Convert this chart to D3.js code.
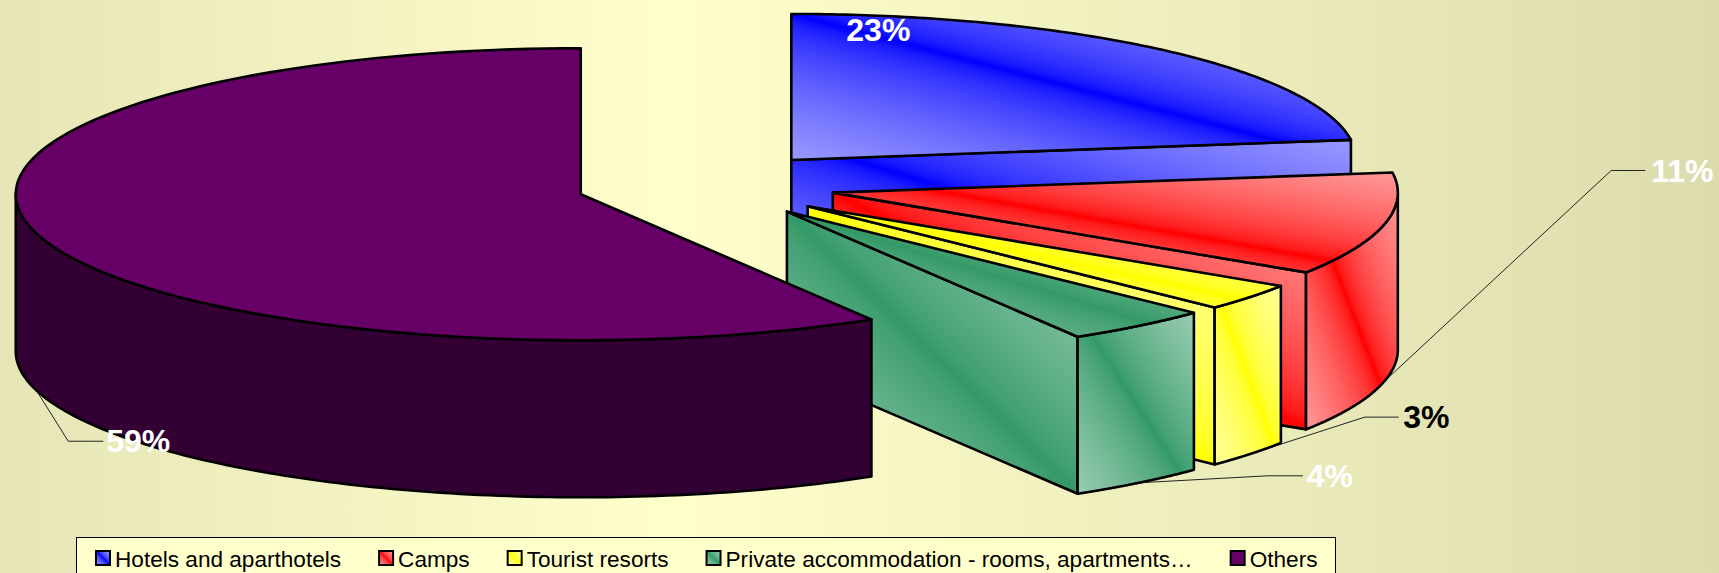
<!DOCTYPE html>
<html>
<head>
<meta charset="utf-8">
<script src="https://cdn.jsdelivr.net/npm/d3@7"></script>
<style>
  html, body { margin: 0; padding: 0; overflow: hidden; }
  svg { display: block; }
  text { font-family: "Liberation Sans", Arial, sans-serif; }
</style>
</head>
<body>
<div id="chart"></div>
<script>
const categories = ['Hotels and aparthotels', 'Camps', 'Tourist resorts', 'Private accommodation - rooms, apartments…', 'Others']
const shares = [22.8, 11.4, 3.0, 4.2, 58.6]
const pct_labels = ['23%', '11%', '3%', '4%', '59%']
const colors = ['#0000ff', '#ff0000', '#ffff00', '#339966', '#660066']
const corner_tint = [0.6, 0.6, 0.6, 0.5, 0]
const tint_curve = [0.6, 0.6, 0.55, 0.75, 1]
const label_colors = ['#fff', '#fff', '#000', '#fff', '#fff']

const width = 1719, height = 573
const rx = 565, ry = 146, depth = 157
const base_x = 706, base_y = 185.3
const explode = 0.23

// hand placed labels, offset from the slice's lower rim point. elbow null = no leader
const label_pos = [
    { dx: -316, dy: -177, elbow: null },
    { dx: 267, dy: -211, elbow: [227, -211], end: 261 },
    { dx: 153.5, dy: -37, elbow: [115, -37], end: 149 },
    { dx: 168, dy: -7, elbow: [129, -7], end: 164 },
    { dx: 70, dy: 51, elbow: [32, 51], end: 67 }
]

const svg = d3.select('#chart').append('svg')
    .attr('width', width)
    .attr('height', height)

const defs = svg.append('defs')

const bg = defs.append('linearGradient').attr('id', 'bg')
bg.append('stop').attr('offset', 0).attr('stop-color', '#e5e5b7')
bg.append('stop').attr('offset', 0.39).attr('stop-color', '#ffffcc')
bg.append('stop').attr('offset', 1).attr('stop-color', '#dbdbad')

svg.append('rect').attr('width', width).attr('height', height).attr('fill', 'url(#bg)')

// three colour diagonal fill, light in the corners and full colour along the middle
colors.forEach((c, i) => {
    const g = defs.append('linearGradient').attr('id', 'grad' + i)
        .attr('x1', 1).attr('y1', 0).attr('x2', 0).attr('y2', 1)
    const tint = t => d3.interpolateRgb(c, '#fff')(corner_tint[i] * Math.pow(Math.abs(2 * t - 1), tint_curve[i]))
    d3.range(0, 41).forEach(k => {
        g.append('stop').attr('offset', k / 40).attr('stop-color', tint(k / 40))
    })
})

const fill_top = i => i == 4 ? '#660066' : 'url(#grad' + i + ')'
const fill_side = i => i == 4 ? '#330033' : 'url(#grad' + i + ')'

const arcs = d3.pie().sort(null).value(d => d)(shares)

const slices = arcs.map((a, i) => {
    const mid = (a.startAngle + a.endAngle) / 2
    const cx = base_x + explode * rx * Math.sin(mid)
    const cy = base_y - explode * ry * Math.cos(mid)
    const point = (ang, z = 0) => [cx + rx * Math.sin(ang), cy - ry * Math.cos(ang) + z]
    return { i, start: a.startAngle, end: a.endAngle, mid, cx, cy, point }
})

const line = d3.line()
const rim = (s, from, to, z = 0) => d3.range(0, 121).map(k => s.point(from + (to - from) * k / 120, z))

const pie_g = svg.append('g')
const leader_g = pie_g.append('g')

const half = Math.PI / 2
slices.forEach(s => {
    const g = pie_g.append('g')
    // flat top
    const top_pts = [[s.cx, s.cy]].concat(rim(s, s.start, s.end))
    // wall on the end cut of the slice, faces us while the cut is on the right hand side
    if (s.end > 0 && s.end < Math.PI) {
        const p = s.point(s.end)
        g.append('path')
            .attr('d', line([[s.cx, s.cy], p, [p[0], p[1] + depth], [s.cx, s.cy + depth]]) + 'Z')
            .attr('fill', fill_side(s.i))
    }
    // outer wall
    const from = Math.max(s.start, half), to = Math.min(s.end, 3 * half)
    if (to > from) {
        const upper = rim(s, from, to)
        const lower = rim(s, to, from, depth)
        g.append('path')
            .attr('d', line(upper.concat(lower)) + 'Z')
            .attr('fill', fill_side(s.i))
    }
    g.append('path')
        .attr('d', line(top_pts) + 'Z')
        .attr('fill', fill_top(s.i))
    g.selectAll('path')
        .attr('stroke', '#000')
        .attr('stroke-width', 2.6)
        .attr('stroke-linejoin', 'round')
})

// leaders sit behind the slices, so they run up to the rim and disappear
slices.forEach(s => {
    const pos = label_pos[s.i]
    const a = s.point(s.mid, depth)
    if (pos.elbow) {
        leader_g.append('path')
            .attr('d', line([a, [a[0] + pos.elbow[0], a[1] + pos.elbow[1]], [a[0] + pos.end, a[1] + pos.elbow[1]]]))
            .attr('fill', 'none')
            .attr('stroke', '#222')
            .attr('stroke-width', 1)
    }
    svg.append('text')
        .attr('x', a[0] + pos.dx)
        .attr('y', a[1] + pos.dy)
        .attr('dy', '.35em')
        .attr('fill', label_colors[s.i])
        .style('font-size', '32px')
        .style('font-weight', 'bold')
        .text(pct_labels[s.i])
})

// legend, runs off the bottom of the picture
const legend = svg.append('g')
legend.append('rect')
    .attr('x', 76.5).attr('y', 537.5)
    .attr('width', 1259).attr('height', 60)
    .attr('fill', '#ffffcc')
    .attr('stroke', '#000')
    .attr('stroke-width', 1)

let lx = 96
categories.forEach((c, i) => {
    legend.append('rect')
        .attr('x', lx).attr('y', 551)
        .attr('width', 14).attr('height', 14)
        .attr('fill', fill_top(i))
        .attr('stroke', '#000')
        .attr('stroke-width', 2)
    const t = legend.append('text')
        .attr('x', lx + 19).attr('y', 559)
        .attr('dy', '.35em')
        .attr('fill', '#000')
        .style('font-size', '22.6px')
        .text(c)
    lx += 20 + t.node().getComputedTextLength() + 37
})
</script>
</body>
</html>
